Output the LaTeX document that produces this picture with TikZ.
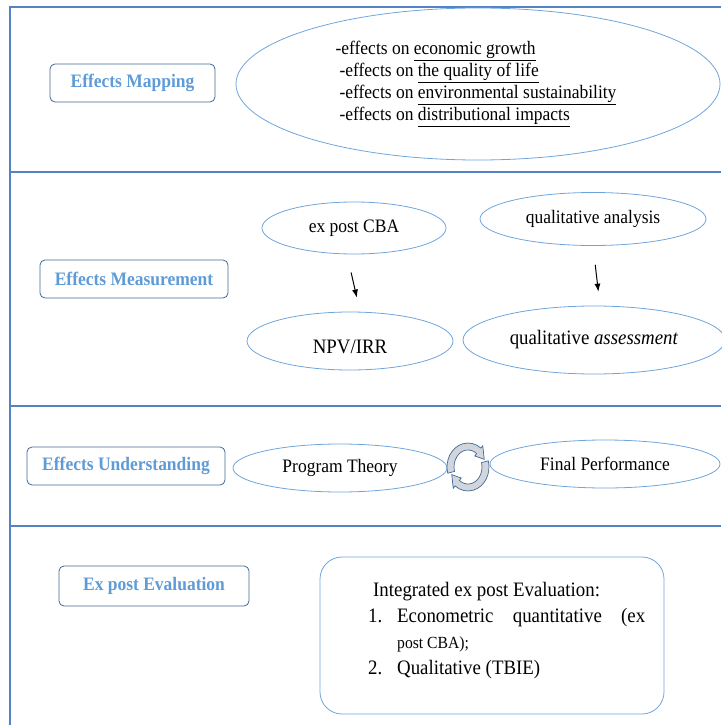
\documentclass[tikz,border=0pt]{standalone}
\usepackage{fontspec}
\setmainfont{Liberation Serif}[FakeStretch=0.92]
\usetikzlibrary{arrows.meta,positioning,shapes.geometric}
\definecolor{frameblue}{RGB}{84,130,196}
\definecolor{ellblue}{RGB}{110,165,220}
\definecolor{boxedge}{RGB}{65,105,150}
\definecolor{labblue}{RGB}{95,155,215}
\definecolor{iconfill}{RGB}{210,214,220}
\newcommand{\fs}[1]{\fontsize{#1}{22}\selectfont}

\begin{document}
\begin{tikzpicture}[x=1pt, y=-1pt, >={Latex[length=8pt,width=6pt]},
  lab/.style={draw=boxedge, thick, rounded corners=5pt, fill=white, text=labblue,
              font=\bfseries\fs{19}, minimum height=38pt, inner sep=0pt},
  ell/.style={ellipse, draw=ellblue, thick, inner sep=0pt, font=\fs{19}},
  sep/.style={draw=frameblue, line width=1.6pt},
  cyc/.style={draw=boxedge, fill=iconfill, line width=0.7pt}]
\useasboundingbox (0,0) rectangle (721,725);

% table lines
\draw[sep] (721,7) -- (10,7) -- (10,725);
\foreach \y in {172,406,526} \draw[sep] (10,\y) -- (721,\y);

% row 1
\node[lab, minimum width=165pt] (mapping) at (132.5,83) {Effects Mapping};
\node[ell, minimum width=484pt, minimum height=152pt, align=left] (effects) at (478,84)
  {\hspace*{-4pt}-effects on \underline{economic growth}\\
   -effects on \underline{the quality of life}\\
   -effects on \underline{environmental sustainability}\\
   -effects on \underline{distributional impacts}};

% row 2
\node[lab, minimum width=188pt] (measure) at (134,279) {Effects Measurement};
\node[ell, minimum width=184pt, minimum height=52pt] (cba) at (354,228) {ex post CBA};
\node[ell, minimum width=226pt, minimum height=53pt] (qana) at (593,219) {qualitative analysis};
\node[ell, minimum width=206pt, minimum height=58pt, font=\fs{20.5},
      text height=25pt, text depth=0pt] (npv) at (350,341) {NPV/IRR};
\node[ell, minimum width=262pt, minimum height=68pt, font=\fs{20.5}] (qass) at (594,340) {qualitative \textit{assessment}};
\draw[->, line width=1pt, shorten <=18.5pt, shorten >=14.4pt] ([xshift=-7pt]cba.south) -- ([xshift=10pt]npv.north);
\draw[->, line width=1pt, shorten <=19pt, shorten >=14pt] (qana.south) -- ([xshift=6pt]qass.north);

% row 3
\node[lab, minimum width=198pt] (underst) at (126,466) {Effects Understanding};
\node[ell, minimum width=214pt, minimum height=48pt] (theory) at (340,468) {Program Theory};
\node[ell, minimum width=230pt, minimum height=48pt] (perf) at (605,464) {Final Performance};
\foreach \r in {0,180}
  \draw[cyc, shift={(468,467)}, yscale=-1, rotate=\r]
    (195:21 and 24) arc[start angle=195, end angle=52, x radius=21, y radius=24]
    -- (52:24 and 27) -- (22:17.5 and 20.5) -- (52:11 and 14)
    -- (52:14 and 17) arc[start angle=52, end angle=195, x radius=14, y radius=17] -- cycle;

% row 4
\node[lab, minimum width=190pt, minimum height=40pt] (expost) at (154,586) {Ex post Evaluation};
\node[draw=ellblue, thick, rounded corners=22pt, minimum width=344pt, minimum height=157pt] (evalbox) at (492,635.5) {};
\node[anchor=north west, inner sep=0pt, text width=277pt, align=flush left,
      font=\fs{20.5}\setlength{\baselineskip}{26pt}] (evaltext) at (368,582)
  {\hspace*{5pt}Integrated ex post Evaluation:\\
   \makebox[29pt][l]{1.}Econometric\hfill quantitative\hfill (ex\\
   \hspace*{29pt}{\fs{17}post CBA);}\\
   \makebox[29pt][l]{2.}Qualitative (TBIE)};
\end{tikzpicture}
\end{document}
